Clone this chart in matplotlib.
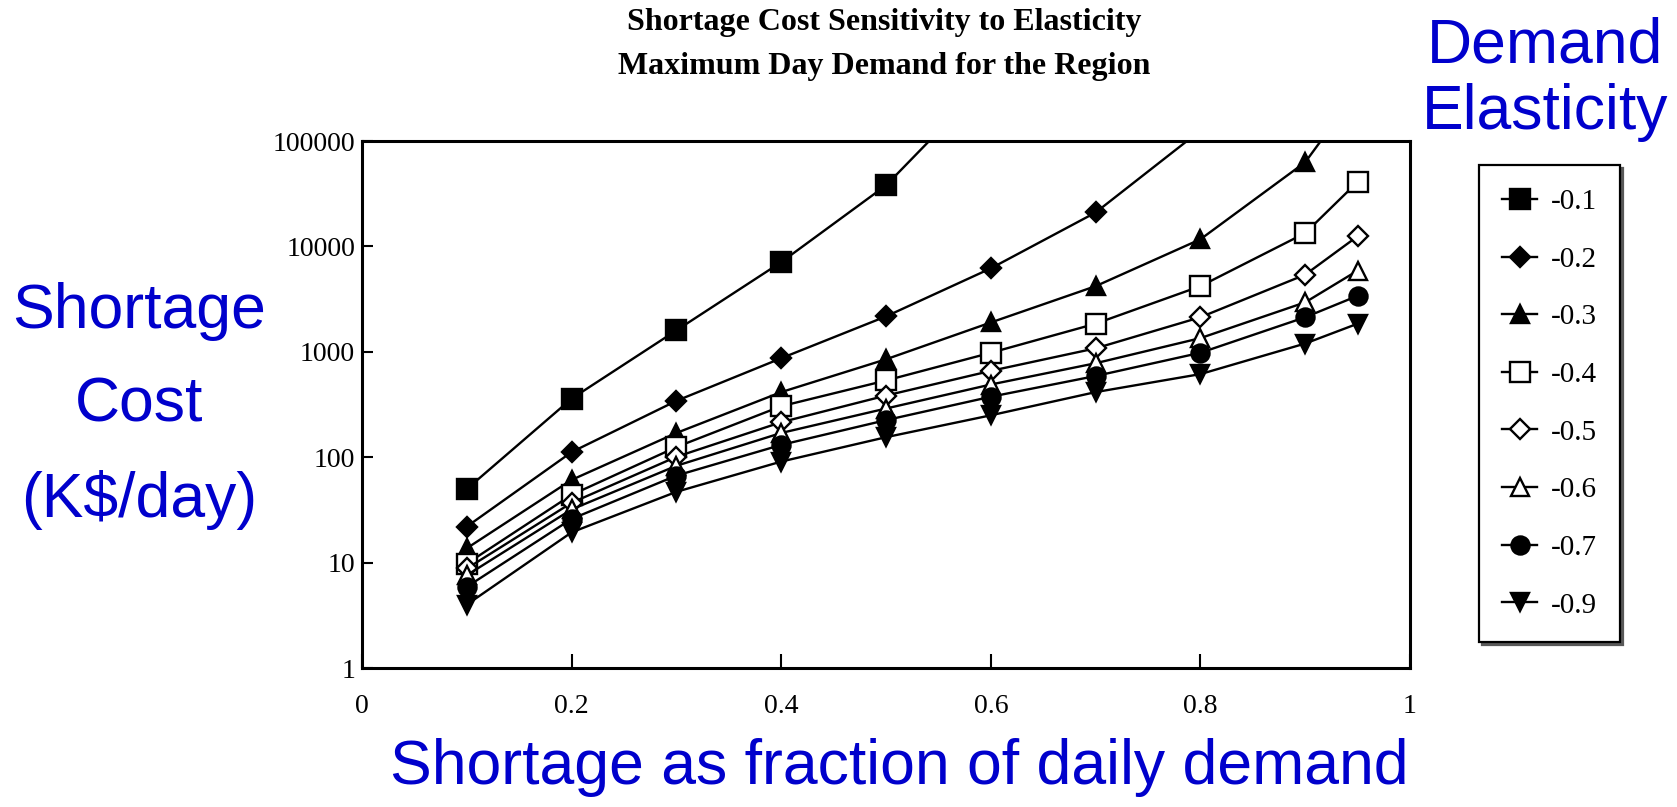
import matplotlib
matplotlib.use("Agg")
import matplotlib.pyplot as plt
from matplotlib.lines import Line2D

# shortage fraction of daily demand
x_all = [0.1, 0.2, 0.3, 0.4, 0.5, 0.6, 0.7, 0.8, 0.9, 0.95]

# shortage cost (K$/day), one list per elasticity
e01 = [50, 360, 1600, 7100, 38000, 400000]
e02 = [22, 112, 343, 870, 2170, 6200, 21000, 126000]
e03 = [13.7, 61, 170, 415, 850, 1900, 4200, 11700, 63000, 300000]
e04 = [9.8, 44, 125, 305, 535, 980, 1850, 4200, 13400, 41000]
e05 = [8.8, 37, 101, 215, 385, 660, 1080, 2130, 5400, 12500]
e06 = [7.6, 32, 83, 170, 290, 490, 780, 1350, 2950, 5900]
e07 = [5.9, 26, 67, 131, 225, 375, 590, 980, 2130, 3400]
e09 = [4.0, 19.4, 47, 91, 155, 250, 415, 615, 1200, 1850]

labels = ["-0.1", "-0.2", "-0.3", "-0.4", "-0.5", "-0.6", "-0.7", "-0.9"]
series = [e01, e02, e03, e04, e05, e06, e07, e09]

yticks = [1, 10, 100, 1000, 10000, 100000]
ytick_labels = ["1", "10", "100", "1000", "10000", "100000"]
xticks = [0, 0.2, 0.4, 0.6, 0.8, 1]
xtick_labels = ["0", "0.2", "0.4", "0.6", "0.8", "1"]

# marker, filled?, size
styles = [("s", True, 15), ("D", True, 10), ("^", True, 13), ("s", False, 14),
          ("D", False, 10), ("^", False, 13), ("o", True, 13), ("v", True, 13)]

serif = "Liberation Serif"
sans = "Liberation Sans"
blue = "#0000CC"

fig = plt.figure(figsize=(16.77, 8.07), dpi=100)
ax = fig.add_axes([0.2159, 0.1722, 0.6249, 0.653])

handles = []
for vals, lab, (m, filled, ms) in zip(series, labels, styles):
    xs = x_all[:len(vals)]
    ax.plot(xs, vals, color="black", lw=1.7, marker=m, ms=ms,
            mfc="black" if filled else "white", mec="black", mew=1.7,
            label=lab, clip_on=True)
    handles.append(Line2D([], [], color="black", lw=1.7, marker=m, ms=ms,
                          mfc="black" if filled else "white", mec="black", mew=1.7))

ax.set_yscale("log")
ax.set_ylim(1, 100000)
ax.set_xlim(0, 1)
ax.set_yticks(yticks)
ax.set_yticklabels(ytick_labels)
ax.minorticks_off()
ax.set_xticks(xticks)
ax.set_xticklabels(xtick_labels)
ax.tick_params(axis="y", direction="in", length=8, width=1.5, pad=5, labelsize=20,
               right=False)
ax.tick_params(axis="x", direction="in", length=10, width=1.5, pad=19, labelsize=20,
               top=False)
for t in ax.get_xticklabels() + ax.get_yticklabels():
    t.set_fontfamily(serif)
for s in ax.spines.values():
    s.set_linewidth(2.2)

fig.text(0.527, 0.972, "Shortage Cost Sensitivity to Elasticity", ha="center", va="center",
         fontfamily=serif, fontweight="bold", fontsize=23)
fig.text(0.527, 0.917, "Maximum Day Demand for the Region", ha="center", va="center",
         fontfamily=serif, fontweight="bold", fontsize=23)

fig.text(0.083, 0.497, "Shortage\nCost\n(K$/day)", ha="center", va="center",
         fontfamily=sans, fontsize=45, color=blue, linespacing=1.75)
fig.text(0.9216, 0.902, "Demand\nElasticity", ha="center", va="center",
         fontfamily=sans, fontsize=45, color=blue, linespacing=1.15)
fig.text(0.536, 0.049, "Shortage as fraction of daily demand", ha="center", va="center",
         fontfamily=sans, fontsize=45, color=blue)

leg = fig.legend(handles, labels, loc="upper left", bbox_to_anchor=(0.882, 0.795),
                 borderaxespad=0, prop={"family": serif, "size": 21}, frameon=True,
                 fancybox=False, shadow={"color": "0.35", "alpha": 1}, handlelength=1.2,
                 handletextpad=0.45, labelspacing=1.07, borderpad=0.8)
leg.get_frame().set_edgecolor("black")
leg.get_frame().set_linewidth(1.6)

fig.savefig("out.png", dpi=100)
